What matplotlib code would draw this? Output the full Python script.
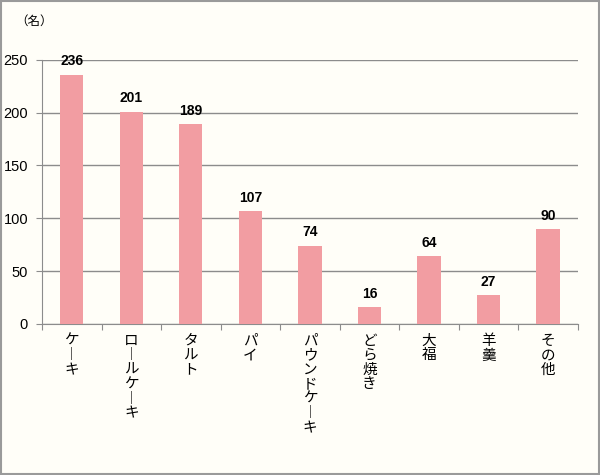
import matplotlib.pyplot as plt
from matplotlib.patches import Rectangle
from matplotlib.transforms import offset_copy

plt.rcParams['font.family'] = ['Noto Sans CJK JP', 'DejaVu Sans']

categories = ['ケーキ', 'ロールケーキ', 'タルト', 'パイ', 'パウンドケーキ', 'どら焼き', '大福', '羊羹', 'その他']
counts = [236, 201, 189, 107, 74, 16, 64, 27, 90]
yticks = [0, 50, 100, 150, 200, 250]

bg = '#FFFEF8'
fig = plt.figure(figsize=(6, 4.75), dpi=100, facecolor=bg)
fig.patches.append(Rectangle((0.002, 0.002), 0.996, 0.996, transform=fig.transFigure,
                             fill=False, edgecolor='#9a9a9a', linewidth=1.5))
ax = fig.add_axes([0.07, 0.318, 0.893, 0.556])
ax.set_facecolor(bg)

x = range(len(categories))
ax.bar(x, counts, width=0.39, color='#F29DA2', zorder=3)
for i, v in zip(x, counts):
    ax.text(i, v + 6, str(v), ha='center', va='bottom', fontsize=10,
            fontweight='bold', family=['Liberation Sans', 'DejaVu Sans'])

ax.set_xlim(-0.5, len(categories) - 0.5)
ax.set_ylim(0, 250)
ax.set_yticks(yticks)
ax.set_yticklabels([str(t) for t in yticks], fontsize=10.5,
                   family=['Liberation Sans', 'DejaVu Sans'])
ax.yaxis.grid(True, color='#8c8c8c', linewidth=1, zorder=0)
ax.tick_params(axis='y', length=4, color='#8c8c8c', pad=6)

# tick marks between categories, labels drawn separately as vertical text
ax.set_xticks([i + 0.5 for i in range(-1, len(categories))])
ax.set_xticklabels([])
ax.tick_params(axis='x', length=4, color='#8c8c8c')
base = ax.get_xaxis_transform()
for i, name in enumerate(categories):
    for k, ch in enumerate(name):
        tr = offset_copy(base, fig=fig, x=0, y=-17 - 14.5 * k, units='dots')
        ax.text(i, 0, '︱' if ch == 'ー' else ch, ha='center', va='center',
                fontsize=10.5, transform=tr)

for side in ['top', 'right']:
    ax.spines[side].set_visible(False)
for side in ['left', 'bottom']:
    ax.spines[side].set_color('#8c8c8c')

fig.text(0.025, 0.955, '（名）', fontsize=9, ha='left', va='center')

fig.savefig('out.png', dpi=100, facecolor=bg)
